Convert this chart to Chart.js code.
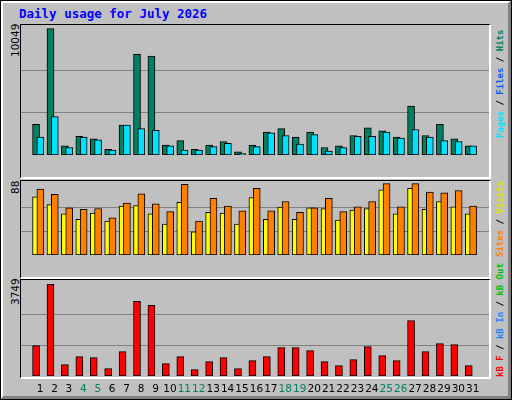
<!DOCTYPE html>
<html><head><meta charset="utf-8">
<script src="https://cdn.jsdelivr.net/npm/chart.js@4"></script>
<style>
body{margin:0;background:#fff}
#frame{position:absolute;left:0;top:0;width:512px;height:400px;box-sizing:border-box;background:#c0c0c0;border:1px solid #000}
#inner{position:absolute;left:0;top:0;right:0;bottom:0;border-top:2px solid #fff;border-left:2px solid #fff;border-right:3px solid #808080;border-bottom:3px solid #808080}
.panel{position:absolute;box-sizing:border-box;border-top:1px solid #000;border-left:1px solid #000;border-right:2px solid #fff;border-bottom:2px solid #fff}
.cv{position:absolute}
.t{position:absolute;font-family:"DejaVu Sans Mono",monospace;white-space:nowrap;line-height:1}
.rot{transform-origin:0 0;transform:rotate(-90deg)}
.lg{font-size:9px;font-weight:bold}
</style></head><body>
<div id="frame"><div id="inner"></div></div>
<div class="t" style="left:19px;top:8px;font-size:12.5px;font-weight:bold;color:#0000ff">Daily usage for July 2026</div>
<div class="panel" style="left:20px;top:24px;width:471px;height:155px"></div>
<div class="panel" style="left:20px;top:180px;width:471px;height:99px"></div>
<div class="panel" style="left:20px;top:279px;width:471px;height:100px"></div>
<div class="cv" style="left:21px;top:25px;width:468px;height:151px"><canvas id="c1"></canvas></div>
<div class="cv" style="left:21px;top:181px;width:468px;height:95px"><canvas id="c2"></canvas></div>
<div class="cv" style="left:21px;top:280px;width:468px;height:117px"><canvas id="c3"></canvas></div>
<div class="t rot" style="left:10px;top:57px;font-size:10.5px;font-family:'DejaVu Sans';color:#000">10049</div>
<div class="t rot" style="left:10px;top:194px;font-size:10.5px;font-family:'DejaVu Sans';color:#000">88</div>
<div class="t rot" style="left:10px;top:305px;font-size:10.5px;font-family:'DejaVu Sans';color:#000">3749</div>
<div class="t rot lg" style="left:496px;top:138px"><span style="color:#00e0ff">Pages</span><span style="color:#000"> / </span><span style="color:#0060ff">Files</span><span style="color:#000"> / </span><span style="color:#008060">Hits</span></div>
<div class="t rot lg" style="left:496px;top:257px"><span style="color:#ff8000">Sites</span><span style="color:#000"> / </span><span style="color:#e0e000">Visits</span></div>
<div class="t rot lg" style="left:496px;top:377px"><span style="color:#ff0000">kB F</span><span style="color:#000"> / </span><span style="color:#2080ff">kB In</span><span style="color:#000"> / </span><span style="color:#00c000">kB Out</span></div>
<script>
const days=[1,2,3,4,5,6,7,8,9,10,11,12,13,14,15,16,17,18,19,20,21,22,23,24,25,26,27,28,29,30,31];
const weekends=[4,5,11,12,18,19,25,26];
const hits=[2444,10049,731,1485,1279,457,2375,8001,7864,799,1142,457,799,1073,251,799,1827,2101,1416,1827,594,731,1553,2170,1919,1416,3883,1553,2444,1279,731];
const files=[1416,3060,594,1416,1211,388,2375,2101,1964,731,388,388,662,936,114,662,1759,1553,868,1622,320,594,1485,1485,1827,1348,2032,1416,1142,1073,731];
const visits=[71.7,62,50.6,43.8,51.5,41.9,60.2,61,50.6,38,65,28.5,52.5,51.5,38,70.7,43.8,59,43.8,58.2,57.3,42.9,55.4,57.3,80.3,50.6,82.2,56.3,65.9,59.2,50.6];
const sites=[81.3,74.6,58.2,56.3,57.3,45.8,64,75.5,63,53.4,87,41.9,69.8,60.2,54.4,82.2,54.4,65.9,52.5,58.2,69.8,53.4,59.2,65.9,88,59.2,88,77.4,76.5,79.4,60.2];
const kbf=[1245,3749,465,793,752,301,999,3051,2887,506,793,260,588,752,301,629,793,1163,1163,1040,588,424,670,1204,834,629,2271,999,1327,1286,424];
const maxHits=10049,maxVisits=88,maxKb=3749;

const pts=(arr,off)=>arr.map((v,i)=>({x:days[i]+off,y:v}));
function ds(arr,off,color,order){return{data:pts(arr,off),backgroundColor:color,borderColor:'#000',borderWidth:1,borderSkipped:false,barThickness:7,grouped:false,order:order};}
function mk(id,datasets,top,showX){
  const fix=s=>{s.width=0;};
  new Chart(document.getElementById(id),{type:'bar',data:{datasets},
   options:{responsive:true,maintainAspectRatio:false,animation:false,
    layout:{padding:0},
    plugins:{legend:{display:false},tooltip:{enabled:false}},
    scales:{
     x:{type:'linear',min:0.2,max:31.6,display:showX,
        afterBuildTicks:s=>{s.ticks=days.map(d=>({value:d}));},
        afterFit:s=>{s.height=21;},
        grid:{display:false,drawTicks:false},border:{display:false},
        ticks:{padding:7,autoSkip:false,maxRotation:0,font:{family:'DejaVu Sans',size:10.5},
          color:c=>weekends.includes(c.tick.value)?'#008060':'#000',callback:v=>String(v)}},
     y:{min:0,max:top.max,afterFit:fix,
        afterBuildTicks:s=>{s.ticks=[{value:top.g/3},{value:top.g*2/3}];},
        grid:{color:'#808080',lineWidth:1,drawTicks:false},border:{display:false},
        ticks:{display:false}}
    }}});
}
mk('c1',[ds(hits,-0.28,'#008060',1),ds(files,0.02,'#00e0ff',0)],{max:maxHits*151/146.7,g:maxHits},false);
mk('c2',[ds(visits,-0.28,'#ffff00',1),ds(sites,0.02,'#ff8000',0)],{max:maxVisits*95/91.7,g:maxVisits},false);
mk('c3',[ds(kbf,-0.28,'#ff0000',0)],{max:maxKb*95.7/91.4,g:maxKb},true);
</script></body></html>
